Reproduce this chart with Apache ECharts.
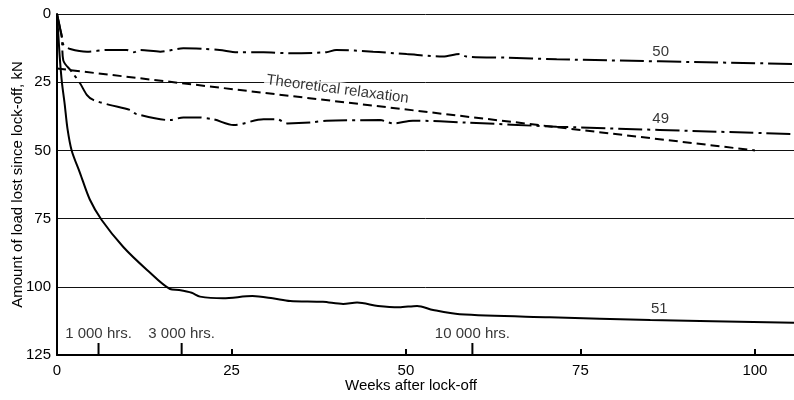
<!DOCTYPE html>
<html>
<head>
<meta charset="utf-8">
<script src="https://cdn.jsdelivr.net/npm/echarts@6/dist/echarts.min.js"></script>
<style>html,body{margin:0;padding:0;background:#fff}#c{width:794px;height:400px}</style>
</head>
<body>
<div id="c"></div>
<script>
// Data: [weeks after lock-off, kN lost]
const series51 = [[0,0],[0.2,8],[0.4,16],[0.7,25],[1.1,33],[1.5,42],[2.1,50],[3.3,58.3],[4.7,68],[6.4,75.5],[9.5,85.4],[12.9,93.8],[16.2,100.8],[17.5,101.2],[19.3,102.2],[20.5,103.6],[23.8,104.2],[28,103.4],[30.9,104.2],[33.4,105.2],[38.1,105.5],[41,106.3],[43,105.8],[46,107],[49,107.5],[51.6,107],[53.9,108.5],[57.7,110.1],[70.6,111.2],[85,112.2],[105.6,113.2]];
const series49 = [[0,0],[0.5,6],[0.7,8.5],[0.9,17],[2.1,21.1],[3.3,25.4],[4.3,29.7],[5.2,31.5],[7.5,33.3],[10.5,35.2],[11.4,36.7],[16.2,38.9],[18.1,37.9],[20,37.9],[22.4,38.6],[25.3,40.7],[29.6,38.6],[31.5,38.6],[33,40.1],[36.3,39.8],[38.6,39.1],[46.3,38.9],[48.2,40.1],[51,39.1],[58.7,39.8],[71.6,41.3],[105.6,44]];
const series50 = [[0,0],[0.5,6],[0.7,8.5],[0.95,11.4],[1.9,12.8],[4.3,13.8],[7.2,13.2],[10,13.2],[11,14],[11.9,13.2],[14.8,13.8],[18.1,12.6],[21,12.8],[23.3,13.2],[25.8,14],[29.6,14],[33.4,14.4],[38.6,14],[40,13.2],[45.3,13.8],[50.1,14.7],[55.3,15.6],[57.7,14.7],[58.7,15.6],[64.4,16],[71.6,16.6],[105.6,18.3]];
const theoretical = [[0,20],[100,50]];
const curveLabels = [["50",86.5,13.9],["49",86.5,38.5],["51",86.3,108.1]];
const theoryLabel = ["Theoretical relaxation",40.2,27.6];
const hourTickWeeks = [5.95,17.86,59.52];
const hourLabels = ["1 000 hrs.","3 000 hrs.","10 000 hrs."];
const xTicks = [0,25,50,75,100];
const yTicks = [0,25,50,75,100,125];

const FONT = "'Liberation Sans', Arial, sans-serif";
const txt = {color:'#000', fontFamily:FONT, fontSize:15};

const series = [];
series.push({type:'line', data:series51, symbol:'none', smooth:0.3, lineStyle:{color:'#000', width:2}, z:3});
series.push({type:'line', data:series49, symbol:'none', smooth:0.3, lineStyle:{color:'#000', width:2, type:[24,5,3,5]}, z:3});
series.push({type:'line', data:series50, symbol:'none', smooth:0.3, lineStyle:{color:'#000', width:2, type:[24,5,3,5]}, z:3});
series.push({type:'line', data:theoretical, symbol:'none', lineStyle:{color:'#000', width:2, type:[9,5]}, z:3});
hourTickWeeks.forEach(w => {
  series.push({type:'line', data:[[w,125],[w,120.6]], symbol:'none', lineStyle:{color:'#000', width:2}, z:4});
});
series.push({type:'scatter', symbolSize:0, z:5,
  data: hourTickWeeks.map((w,i)=>({value:[w,117.3], name:hourLabels[i]})),
  label:{show:true, position:'inside', formatter:p=>p.name, ...txt}});
series.push({type:'scatter', symbolSize:0, z:5,
  data: curveLabels.map(c=>({value:[c[1],c[2]], name:c[0]})),
  label:{show:true, position:'inside', formatter:p=>p.name, ...txt}});
series.push({type:'scatter', symbolSize:0, z:6,
  data:[{value:[theoryLabel[1],theoryLabel[2]], name:theoryLabel[0]}],
  label:{show:true, position:'inside', rotate:-7.5, formatter:p=>p.name, backgroundColor:'#fff', padding:[0,2], ...txt}});

const chart = echarts.init(document.getElementById('c'), null, {renderer:'canvas'});
chart.setOption({
  animation:false,
  backgroundColor:'#fff',
  grid:{left:57, right:0, top:14, bottom:45, outerBoundsMode:'none', containLabel:false},
  xAxis:{type:'value', min:0, max:105.6,
    name:'Weeks after lock-off', nameLocation:'middle', nameGap:23, nameMoveOverlap:false,
    nameTextStyle:{...txt, padding:[0,29,0,0]},
    axisLine:{onZero:false, lineStyle:{color:'#000', width:2}},
    axisTick:{show:true, inside:true, length:6, customValues:[25,50,75,100], lineStyle:{color:'#000', width:2}},
    axisLabel:{customValues:xTicks, margin:8, ...txt},
    splitLine:{show:false}},
  yAxis:{type:'value', inverse:true, min:0, max:125, interval:25,
    name:'Amount of load lost since lock-off, kN', nameLocation:'middle', nameGap:32, nameMoveOverlap:false,
    nameTextStyle:{...txt},
    axisLine:{onZero:false, lineStyle:{color:'#000', width:2}},
    axisTick:{show:false},
    axisLabel:{margin:6, ...txt},
    splitLine:{show:true, lineStyle:{color:'#111', width:1}}},
  series
});
</script>
</body>
</html>
